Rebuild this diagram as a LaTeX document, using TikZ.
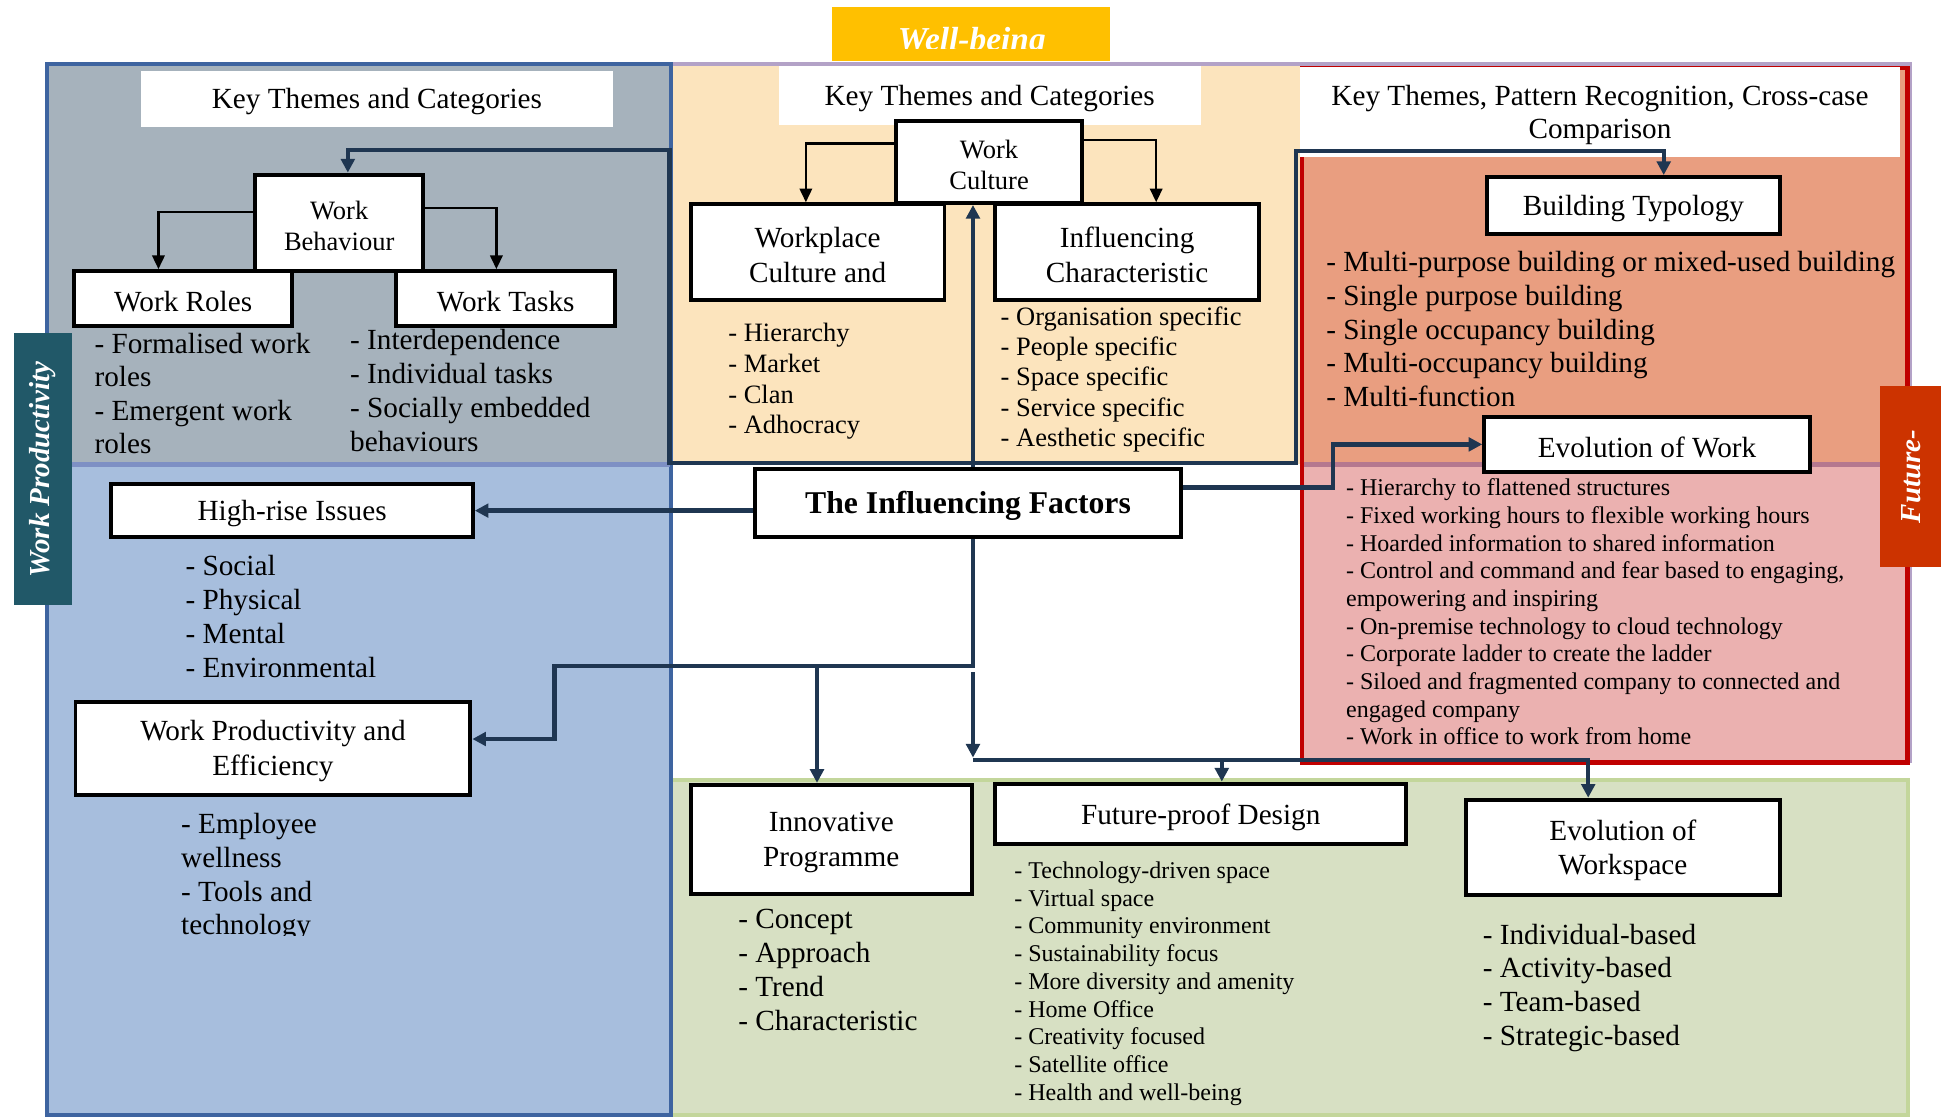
\documentclass[tikz,border=0pt]{standalone}
\usepackage{fontspec}
\setmainfont{Liberation Serif}
\usetikzlibrary{arrows.meta,calc}

\definecolor{cgray}{HTML}{A6B2BC}
\definecolor{cblue}{HTML}{A7BEDD}
\definecolor{cbeige}{HTML}{FCE4BD}
\definecolor{csalmon}{HTML}{E99E80}
\definecolor{cpink}{HTML}{EBB1B0}
\definecolor{cgreen}{HTML}{D7E0C3}
\definecolor{cblueb}{HTML}{3E64A0}
\definecolor{clav}{HTML}{B3A2C7}
\definecolor{cred}{HTML}{C00000}
\definecolor{cnavy}{HTML}{1F3651}
\definecolor{cteal}{HTML}{215868}
\definecolor{corange}{HTML}{CC3300}
\definecolor{cyellow}{HTML}{FFC000}
\definecolor{cgreenb}{HTML}{C3D69B}
\definecolor{csepL}{HTML}{7E90C4}
\definecolor{csepR}{HTML}{B5788F}

\tikzset{
  box/.style={draw=black, line width=1.6pt, fill=white, inner sep=1pt, align=center,
    font=\fontsize{11.8}{14}\selectfont},
  boxs/.style={box, font=\fontsize{10.7}{12.6}\selectfont},
  boxb/.style={box, font=\bfseries\fontsize{12.8}{15}\selectfont},
  hdr/.style={fill=white, draw=none, inner sep=0pt, align=center,
    font=\fontsize{11.8}{13.6}\selectfont},
  lbig/.style={inner sep=0pt, anchor=mid west, font=\fontsize{11.8}{13.7}\selectfont},
  lmid/.style={inner sep=0pt, anchor=mid west, font=\fontsize{10.7}{12.4}\selectfont},
  lsml/.style={inner sep=0pt, anchor=mid west, font=\fontsize{9.7}{11.2}\selectfont},
  navyln/.style={draw=cnavy, line width=1.8pt},
  navyarr/.style={navyln, -{Triangle[length=5.5pt,width=5.5pt]}},
  blkarr/.style={draw=black, line width=0.9pt, -{Triangle[length=5.5pt,width=5pt]}},
  sidelbl/.style={text=white, rotate=90, inner sep=0pt,
    font=\bfseries\itshape\fontsize{11.7}{14}\selectfont},
}

% box: shape node, then its text slightly below the centre
\newcommand\bx[7][box]{%
  \node[#1, minimum width={(#5-#3)*0.5pt}, minimum height={(#6-#4)*0.5pt}] (#2) at ({(#3+#5)/2},{(#4+#6)/2}) {};
  \node[#1, draw=none, fill=none, minimum width=0pt, minimum height=0pt] (#2t) at ([yshift=-1.2pt]#2.center) {#7};}
\newcommand\lst[6]{\foreach \t [count=\i from 0] in {#6} {\node[#1] (#2\i) at (#3,{#4+\i*#5}) {\t};}}

\begin{document}
\begin{tikzpicture}[x=0.5pt,y=-0.5pt]
\useasboundingbox (0,0) rectangle (1568,903);

% region fills
\fill[cgray] (38,52) rectangle (542,375);
\fill[cblue] (38,375) rectangle (542,901);
\fill[cbeige] (542,52) rectangle (1050,375);
\fill[csalmon] (1052,55) rectangle (1541,375);
\fill[cpink] (1052,375) rectangle (1541,616);
\fill[cgreen] (542,630) rectangle (1541,901);

% region borders
\draw[cgreenb, line width=1.6pt] (542,630) rectangle (1541,901);
\draw[clav, line width=1.6pt] (542,52) -- (1543,52) -- (1543,616);
\draw[cred, line width=1.8pt] (1052,55) rectangle (1541,616);
\draw[cblueb, line width=1.6pt] (38,52) rectangle (542,901);
\draw[csepL, line width=2pt] (39,375) -- (541,375);
\draw[csepR, line width=2pt] (1053,375) -- (1540,375);

% headers
\bx[hdr]{hdrL}{114}{57}{495}{103}{Key Themes and Categories}
\bx[hdr]{hdrM}{629}{53}{970}{101}{Key Themes and Categories}
\bx[hdr]{hdrR}{1050}{54}{1535}{127}{Key Themes, Pattern Recognition, Cross-case\\Comparison}

% navy frame connector points
\coordinate (a1) at (281,121);
\coordinate (a2) at (541,121);
\coordinate (a3) at (541,374);
\coordinate (a4) at (1047,374);
\coordinate (a5) at (1047,122);
\coordinate (a6) at (1344,122);

% boxes
\bx[boxs]{wb}{206}{141}{342}{219}{Work\\Behaviour}
\bx{wr}{60}{219}{236}{263}{Work Roles}
\bx{wt}{320}{219}{497}{263}{Work Tasks}
\bx[boxs]{wc}{724}{98}{874}{164}{Work\\Culture}
\bx{wp}{558}{165}{763}{242}{Workplace\\Culture and}
\bx{ic}{804}{165}{1017}{242}{Influencing\\Characteristic}
\bx{bt}{1201}{143}{1438}{189}{Building Typology}
\bx{ew}{1199}{337}{1462}{381}{Evolution of Work}
\bx[boxb]{tif}{610}{379}{954}{434}{The Influencing Factors}
\bx{hr}{90}{391}{382}{434}{High-rise Issues}
\bx{wpe}{61}{567}{380}{642}{Work Productivity and\\Efficiency}
\bx{ip}{558}{634}{785}{722}{Innovative\\Programme}
\bx{fpd}{804}{633}{1136}{682}{Future-proof Design}
\bx{ews}{1184}{646}{1438}{723}{Evolution of\\Workspace}

\draw[navyln, {Triangle[length=5.5pt,width=5.5pt]}-{Triangle[length=5.5pt,width=5.5pt]}]
  (a1 |- wb.north) -- (a1) -- (a2) -- (a3) -- (a4) -- (a5) -- (a6) -- (a6 |- bt.north);

% black tree arrows
\coordinate (c1) at (128,171);
\coordinate (c2) at (401,168);
\coordinate (c3) at (651,116);
\coordinate (c4) at (934,113);
\draw[blkarr] (wb.west |- c1) -| (c1 |- wr.north);
\draw[blkarr] (wb.east |- c2) -| (c2 |- wt.north);
\draw[blkarr] (wc.west |- c3) -| (c3 |- wp.north);
\draw[blkarr] (wc.east |- c4) -| (c4 |- ic.north);

% navy connectors from The Influencing Factors
\coordinate (b1) at (786,0);
\draw[navyarr] (b1 |- tif.north) -- (b1 |- wc.south);
\coordinate (cc1) at (1077,394);
\draw[navyarr] (tif.east |- cc1) -- (cc1) |- (ew.west);
\draw[navyarr] (tif.west |- hr.east) -- (hr.east);
\coordinate (e1) at (786,538);
\coordinate (e2) at (448,538);
\coordinate (e3) at (448,597);
\coordinate (e4) at (660,538);
\draw[navyarr] (e1 |- tif.south) -- (e1) -- (e2) -- (e3) -- (e3 -| wpe.east);
\draw[navyarr] (e4) -- (e4 |- ip.north);
\coordinate (f1) at (786,543);
\coordinate (f2) at (786,612);
\coordinate (f3) at (786,614);
\coordinate (f4) at (1283,614);
\coordinate (f5) at (987,614);
\draw[navyarr] (f1) -- (f2);
\draw[navyarr] (f3) -- (f4) -- (f4 |- ews.north);
\draw[navyarr] (f5) -- (f5 |- fpd.north);

% lists
\lst{lbig}{wrl}{76}{281}{27}{- Formalised work, roles, - Emergent work, roles}
\lst{lbig}{wtl}{282.5}{278}{27.3}{- Interdependence, - Individual tasks, - Socially embedded, behaviours}
\lst{lmid}{wpl}{588}{271}{25}{- Hierarchy, - Market, - Clan, - Adhocracy}
\lst{lmid}{icl}{808}{258}{24.5}{- Organisation specific, - People specific, - Space specific, - Service specific, - Aesthetic specific}
\lst{lbig}{btl}{1071}{215}{27.2}{- Multi-purpose building or mixed-used building, - Single purpose building, - Single occupancy building, - Multi-occupancy building, - Multi-function}
\lst{lsml}{ewl}{1087}{396}{22.35}{- Hierarchy to flattened structures, - Fixed working hours to flexible working hours, - Hoarded information to shared information, {- Control and command and fear based to engaging,}, empowering and inspiring, - On-premise technology to cloud technology, - Corporate ladder to create the ladder, - Siloed and fragmented company to connected and, engaged company, - Work in office to work from home}
\lst{lbig}{hrl}{149.5}{460.5}{27.5}{- Social, - Physical, - Mental, - Environmental}
\begin{scope}
\clip (100,640) rectangle (500,756);
\lst{lbig}{wpel}{146}{668.5}{27.4}{- Employee, wellness, - Tools and, technology}
\end{scope}
\lst{lbig}{ipl}{596}{745.5}{27.4}{- Concept, - Approach, - Trend, - Characteristic}
\lst{lsml}{fpl}{819}{705}{22.4}{- Technology-driven space, - Virtual space, - Community environment, - Sustainability focus, - More diversity and amenity, - Home Office, - Creativity focused, - Satellite office, - Health and well-being}
\lst{lbig}{ewsl}{1197.5}{758}{27.2}{- Individual-based, - Activity-based, - Team-based, - Strategic-based}

% labels
\node[fill=cyellow, minimum width=112.5pt, minimum height=21.5pt, inner sep=0pt] (wbbox) at (784.5,27.5) {};
\begin{scope}
\clip (684,15) rectangle (886,39);
\node[text=white, inner sep=0pt, anchor=base, font=\bfseries\itshape\fontsize{13.5}{16}\selectfont] (wbtxt) at (785,40.5) {Well-being};
\end{scope}
\node[sidelbl, fill=cteal, minimum width=110pt, minimum height=23.5pt] (wplbl) at (34.5,379) {Work Productivity};
\node[sidelbl, fill=corange, minimum width=73pt, minimum height=24.5pt] (fplbl) at (1543.5,385) {Future-};
\end{tikzpicture}
\end{document}
